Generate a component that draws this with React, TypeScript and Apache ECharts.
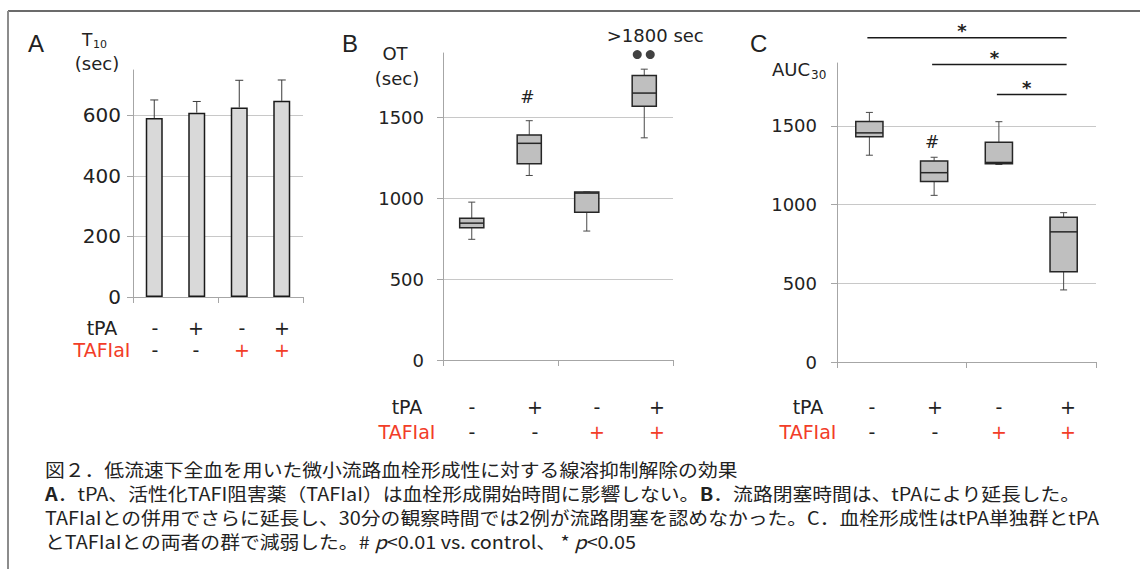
import React, { useEffect, useRef } from "react";
import * as echarts from "echarts";

// ---------- data ----------
const groups = ["control", "tPA", "TAFIaI", "tPA+TAFIaI"];
const tpaSigns = ["-", "+", "-", "+"];
const tafiSigns = ["-", "-", "+", "+"];

// Panel A: T10 (sec), mean and SD
const t10Mean = [591, 609, 626, 648];
const t10SD = [60, 37, 90, 69];

// Panel B: OT (sec), [min, Q1, median, Q3, max]
const otBox = [
  [747, 819, 847, 878, 977],
  [1142, 1214, 1341, 1393, 1481],
  [798, 914, 1033, 1040, 1040],
  [1375, 1570, 1652, 1761, 1800],
];
// two cases with no occlusion within 1800 sec (plotted above the box)
const otCensored = [1890, 1890];

// Panel C: AUC30, [min, Q1, median, Q3, max]
const aucBox = [
  [1314, 1432, 1456, 1529, 1586],
  [1059, 1147, 1203, 1278, 1301],
  [1255, 1259, 1268, 1396, 1527],
  [458, 573, 827, 920, 949],
];

const yTicksA = [0, 200, 400, 600];
const yTicksBC = [0, 500, 1000, 1500];

// significance annotations (category from, category to, level in axis units)
const sigPairsC = [
  [0, 3, 2060],
  [1, 3, 1890],
  [2, 3, 1700],
];
const hashB = { cat: 1, value: 1625 };
const hashC = { cat: 1, value: 1400 };

const captionLines = [
  "図２．低流速下全血を用いた微小流路血栓形成性に対する線溶抑制解除の効果",
  "{b|A}．tPA、活性化TAFI阻害薬（TAFIaI）は血栓形成開始時間に影響しない。{b|B}．流路閉塞時間は、tPAにより延長した。",
  "TAFIaIとの併用でさらに延長し、30分の観察時間では2例が流路閉塞を認めなかった。C．血栓形成性はtPA単独群とtPA",
  "とTAFIaIとの両者の群で減弱した。# {i|p}<0.01 vs. control、 * {i|p}<0.05",
];

// ---------- styles ----------
const LATIN = '"DejaVu Sans", sans-serif';
const JP = '"Noto Sans CJK JP", sans-serif';
const TXT = "#222222";
const RED = "#f23d28";
const AX = "#a6a6a6";
const GRID = "#c8c8c8";

function yAxisOpt(gridIndex: number, max: number, interval: number, ticks: number[], fontSize: number, margin: number) {
  return {
    type: "value",
    gridIndex,
    min: 0,
    max,
    interval,
    axisLine: { show: true, lineStyle: { color: AX, width: 1 } },
    axisTick: { show: true, inside: false, length: 6, lineStyle: { color: AX }, customValues: ticks },
    axisLabel: {
      show: true,
      fontFamily: LATIN,
      fontSize,
      color: TXT,
      margin,
      customValues: ticks,
      formatter: (v: number) => String(v),
    },
    splitLine: { show: true, lineStyle: { color: GRID, width: 1 } },
  };
}

function xAxisOpt(gridIndex: number) {
  return {
    type: "category",
    gridIndex,
    data: groups,
    boundaryGap: true,
    axisLine: { show: true, lineStyle: { color: AX, width: 1 } },
    axisTick: { show: true, alignWithLabel: false, inside: false, length: 6, lineStyle: { color: AX } },
    axisLabel: { show: false },
    splitLine: { show: false },
  };
}

function renderBox(params: any, api: any) {
  const c = api.value(0);
  const pMin = api.coord([c, api.value(1)]);
  const yQ1 = api.coord([c, api.value(2)])[1];
  const yMed = api.coord([c, api.value(3)])[1];
  const yQ3 = api.coord([c, api.value(4)])[1];
  const yMax = api.coord([c, api.value(5)])[1];
  const x = pMin[0];
  const yMin = pMin[1];
  const bw = api.size([1, 0])[0] * 0.42;
  const cap = 7;
  const w = { stroke: "#4a4a4a", lineWidth: 1 };
  return {
    type: "group",
    children: [
      { type: "line", shape: { x1: x, y1: yQ1, x2: x, y2: yMin }, style: w },
      { type: "line", shape: { x1: x - cap / 2, y1: yMin, x2: x + cap / 2, y2: yMin }, style: w },
      { type: "line", shape: { x1: x, y1: yQ3, x2: x, y2: yMax }, style: w },
      { type: "line", shape: { x1: x - cap / 2, y1: yMax, x2: x + cap / 2, y2: yMax }, style: w },
      {
        type: "rect",
        shape: { x: x - bw / 2, y: yQ3, width: bw, height: yQ1 - yQ3 },
        style: { fill: "#bfbfbf", stroke: "#262626", lineWidth: 1.5 },
      },
      { type: "line", shape: { x1: x - bw / 2, y1: yMed, x2: x + bw / 2, y2: yMed }, style: { stroke: "#262626", lineWidth: 1.5 } },
    ],
  };
}

function renderErr(params: any, api: any) {
  const c = api.value(0);
  const base = api.coord([c, api.value(1)]);
  const top = api.coord([c, api.value(2)]);
  const cap = 8;
  const s = { stroke: "#3a3a3a", lineWidth: 1 };
  return {
    type: "group",
    children: [
      { type: "line", shape: { x1: base[0], y1: base[1], x2: top[0], y2: top[1] }, style: s },
      { type: "line", shape: { x1: top[0] - cap / 2, y1: top[1], x2: top[0] + cap / 2, y2: top[1] }, style: s },
    ],
  };
}

function txt(x: number, y: number, text: string, opts: any = {}) {
  return {
    type: "text",
    x,
    y,
    silent: true,
    scaleX: opts.scaleX ?? 1,
    style: {
      text,
      fontFamily: opts.fontFamily ?? LATIN,
      fontSize: opts.fontSize ?? 18,
      fontWeight: opts.fontWeight ?? "normal",
      fill: opts.fill ?? TXT,
      align: opts.align ?? "center",
      verticalAlign: "middle",
      rich: opts.rich,
    },
  };
}

export default function App() {
  const ref = useRef<HTMLDivElement>(null);

  useEffect(() => {
    if (!ref.current) return;
    const chart = echarts.init(ref.current, null, { renderer: "svg" });

    const option: any = {
      animation: false,
      backgroundColor: "#ffffff",
      grid: [
        { left: 133, top: 70, width: 170, height: 227, containLabel: false, outerBoundsMode: "none" },
        { left: 443, top: 53, width: 230, height: 307, containLabel: false, outerBoundsMode: "none" },
        { left: 837, top: 63, width: 259, height: 299, containLabel: false, outerBoundsMode: "none" },
      ],
      xAxis: [xAxisOpt(0), xAxisOpt(1), xAxisOpt(2)],
      yAxis: [
        yAxisOpt(0, 750, 200, yTicksA, 20, 12),
        yAxisOpt(1, 1900, 500, yTicksBC, 18, 19),
        yAxisOpt(2, 1900, 500, yTicksBC, 18, 20),
      ],
      series: [
        {
          type: "bar",
          xAxisIndex: 0,
          yAxisIndex: 0,
          data: t10Mean,
          barWidth: 17,
          itemStyle: { color: "#d9d9d9", borderColor: "#1a1a1a", borderWidth: 1.5 },
          silent: true,
        },
        {
          type: "custom",
          xAxisIndex: 0,
          yAxisIndex: 0,
          data: t10Mean.map((m, i) => [i, m, m + t10SD[i]]),
          encode: { x: 0, y: [1, 2] },
          renderItem: renderErr,
          silent: true,
          z: 3,
        },
        {
          type: "custom",
          xAxisIndex: 1,
          yAxisIndex: 1,
          data: otBox.map((d, i) => [i, ...d]),
          encode: { x: 0, y: [1, 2, 3, 4, 5] },
          renderItem: renderBox,
          silent: true,
        },
        {
          type: "scatter",
          xAxisIndex: 1,
          yAxisIndex: 1,
          data: otCensored.map((v, k) => ({ value: [3, v], symbolOffset: [k === 0 ? -7 : 6, 0] })),
          symbol: "circle",
          symbolSize: 9,
          itemStyle: { color: "#111111" },
          clip: false,
          silent: true,
        },
        {
          type: "custom",
          xAxisIndex: 2,
          yAxisIndex: 2,
          data: aucBox.map((d, i) => [i, ...d]),
          encode: { x: 0, y: [1, 2, 3, 4, 5] },
          renderItem: renderBox,
          silent: true,
        },
      ],
    };
    chart.setOption(option);

    const px = (g: number, c: number, v: number) => chart.convertToPixel({ gridIndex: g } as any, [c, v]) as number[];

    const g: any[] = [];
    // frame
    g.push({ type: "line", silent: true, shape: { x1: 8, y1: 11, x2: 1140, y2: 11 }, style: { stroke: "#3a3a3a", lineWidth: 1.5 } });
    g.push({ type: "line", silent: true, shape: { x1: 8, y1: 11, x2: 8, y2: 569 }, style: { stroke: "#8c8c8c", lineWidth: 2 } });

    // panel letters
    g.push(txt(28, 43, "A", { fontFamily: '"Liberation Sans", sans-serif', fontSize: 24, align: "left" }));
    g.push(txt(342, 43, "B", { fontFamily: '"Liberation Sans", sans-serif', fontSize: 24, align: "left" }));
    g.push(txt(750, 43, "C", { fontFamily: '"Liberation Sans", sans-serif', fontSize: 24, align: "left" }));

    // axis titles
    g.push(txt(82, 40, "T", { fontSize: 17, align: "left" }));
    g.push(txt(93, 44, "10", { fontSize: 11, align: "left" }));
    g.push(txt(97, 63, "(sec)", { fontSize: 18 }));
    g.push(txt(395, 53, "OT", { fontSize: 18 }));
    g.push(txt(397, 78, "(sec)", { fontSize: 18 }));
    g.push(txt(772, 69, "AUC", { fontSize: 18, align: "left" }));
    g.push(txt(811, 75, "30", { fontSize: 12, align: "left" }));

    // condition rows
    const rows = [
      { cx: 102, y1: 328, y2: 350, xs: [155, 196, 242, 282] },
      { cx: 407, y1: 407, y2: 432, xs: [472, 535, 597, 657] },
      { cx: 808, y1: 407, y2: 432, xs: [872, 935, 999, 1068] },
    ];
    rows.forEach((r) => {
      g.push(txt(r.cx, r.y1, "tPA", { fontSize: 19 }));
      g.push(txt(r.cx, r.y2, "TAFIaI", { fontSize: 19, fill: RED }));
      r.xs.forEach((x, i) => {
        g.push(txt(x, r.y1, tpaSigns[i], { fontSize: 19 }));
        g.push(txt(x, r.y2, tafiSigns[i], { fontSize: 19, fill: tafiSigns[i] === "+" ? RED : TXT }));
      });
    });

    // panel B annotations
    const hb = px(1, hashB.cat, hashB.value);
    g.push(txt(hb[0] - 2, hb[1], "#", { fontSize: 17 }));
    const cb = px(1, 3, 2010);
    g.push(txt(cb[0] + 11, cb[1], ">1800 sec", { fontSize: 18 }));

    // panel C annotations
    const hc = px(2, hashC.cat, hashC.value);
    g.push(txt(hc[0] - 2, hc[1], "#", { fontSize: 17 }));
    sigPairsC.forEach(([a, b, v]) => {
      const p1 = px(2, a, v);
      const p2 = px(2, b, v);
      const x1 = p1[0] - 2;
      const x2 = p2[0] + 3;
      g.push({ type: "line", silent: true, shape: { x1, y1: p1[1], x2, y2: p1[1] }, style: { stroke: "#1a1a1a", lineWidth: 1.5 } });
      g.push(txt((x1 + x2) / 2 - 5, p1[1] - 7, "*", { fontSize: 18, fontWeight: "bold" }));
    });

    // caption
    const capY = [469, 493, 517, 541];
    const rich = {
      b: { fontFamily: JP, fontSize: 18, fontWeight: "bold", fill: TXT },
      i: { fontFamily: JP, fontSize: 18, fontStyle: "italic", fill: TXT },
    };
    captionLines.forEach((line, k) => {
      g.push(txt(45, capY[k], line, { fontFamily: JP, fontSize: 18, align: "left", scaleX: 1.1, rich }));
    });

    chart.setOption({ graphic: g });

    return () => chart.dispose();
  }, []);

  return (
    <div
      ref={ref}
      style={{ position: "absolute", left: 0, top: 0, width: 1140, height: 569, background: "#ffffff" }}
    />
  );
}
